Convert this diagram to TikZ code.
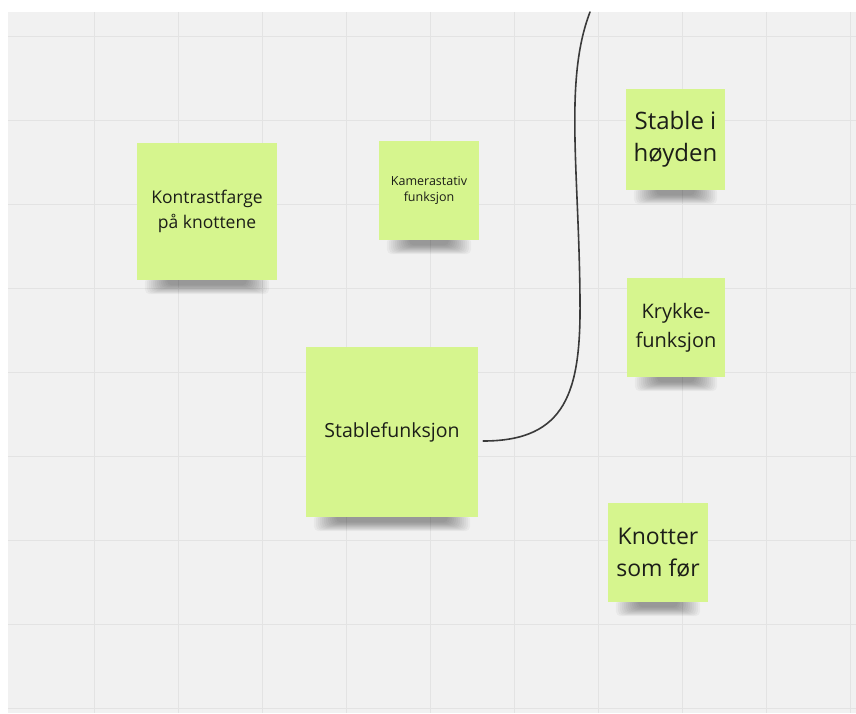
\documentclass[tikz,border=0pt]{standalone}
\usepackage{fontspec}
\setmainfont{Open Sans}
\usetikzlibrary{backgrounds}
\definecolor{canvas}{RGB}{241,241,241}
\definecolor{gridc}{RGB}{227,227,227}
\definecolor{notec}{RGB}{214,245,142}
\definecolor{inkc}{RGB}{28,30,24}
\definecolor{curvec}{RGB}{58,58,58}
\tikzset{
  sticky/.style={fill=notec, draw=none, inner sep=0pt, align=center, text=inkc},
  connector/.style={draw=curvec, line width=1.6pt, line cap=round},
}
\newcommand{\noteshadow}[1]{%
  \foreach \k in {0,...,11}{
    \fill[black, opacity=0.035, rounded corners=5pt]
      ([xshift={8pt+2pt*\k}, yshift=3pt]#1.south west) rectangle
      ([xshift={-8pt-2pt*\k}, yshift={-14pt+0.8pt*\k}]#1.south east);
  }%
}
\begin{document}
\begin{tikzpicture}[x=1pt,y=-1pt]
\useasboundingbox (0,0) rectangle (856,713);

\node[sticky, minimum width=140pt, minimum height=137pt, font=\fontsize{17.5}{25}\selectfont] (kon) at (207,211.5) {Kontrastfarge\\på knottene};
\node[sticky, minimum width=100pt, minimum height=99pt, font=\fontsize{12.5}{16.5}\selectfont] (kam) at (429,190.5) {Kamerastativ\\funksjon};
\node[sticky, minimum width=172pt, minimum height=170pt, font=\fontsize{19.5}{25}\selectfont] (stab) at (392,432) {Stablefunksjon};
\node[sticky, minimum width=99pt, minimum height=101pt, font=\fontsize{24}{32}\selectfont] (hoy) at (675.5,139.5) {Stable i\\høyden};
\node[sticky, minimum width=98pt, minimum height=99pt, font=\fontsize{20}{29}\selectfont] (kry) at (676,327.5) {Krykke-\\funksjon};
\node[sticky, minimum width=100pt, minimum height=99pt, font=\fontsize{23}{32}\selectfont] (kno) at (658,552.5) {Knotter\\som før};

\coordinate (top) at (590,12);
\draw[connector] ([shift={(5,9)}]stab.east) .. controls (566,441) and (581,392) .. (580,300)
  .. controls (579,170) and (564,80) .. (top);

\begin{pgfonlayer}{background}
  \fill[white] (0,0) rectangle (856,713);
  \fill[canvas] (8,12) rectangle (856,713);
  \foreach \i in {1,...,10} \draw[gridc, line width=1pt] ({10+84*\i},12) -- ({10+84*\i},713);
  \foreach \j in {0,...,8} \draw[gridc, line width=1pt] (8,{36+84*\j}) -- (856,{36+84*\j});
  \noteshadow{kon}
  \noteshadow{kam}
  \noteshadow{stab}
  \noteshadow{hoy}
  \noteshadow{kry}
  \noteshadow{kno}
\end{pgfonlayer}
\end{tikzpicture}
\end{document}
